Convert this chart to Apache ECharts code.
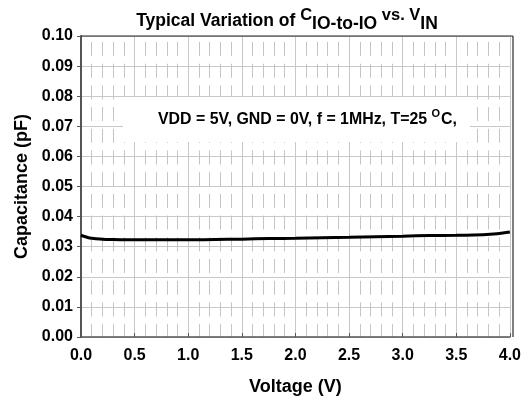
<!DOCTYPE html>
<html><head><meta charset="utf-8">
<script src="https://cdn.jsdelivr.net/npm/echarts@6/dist/echarts.min.js"></script>
<style>html,body{margin:0;padding:0;background:#fff}#c{width:524px;height:402px}</style>
</head><body><div id="c"></div>
<script>
const voltage = [0, 0.05, 0.1, 0.2, 0.3, 0.5, 0.75, 1.0, 1.25, 1.5, 1.75, 2.0, 2.25, 2.5, 2.75, 3.0, 3.25, 3.5, 3.75, 3.9, 4.0];
const capacitance = [0.0338, 0.0332, 0.0328, 0.0325, 0.0324, 0.0323, 0.0323, 0.0323, 0.0324, 0.0325, 0.0327, 0.0328, 0.0330, 0.0331, 0.0333, 0.0335, 0.0337, 0.0338, 0.0340, 0.0344, 0.0349];
const xTicks = ['0.0','0.5','1.0','1.5','2.0','2.5','3.0','3.5','4.0'];
const font = 'Liberation Sans, Arial, sans-serif';
const chart = echarts.init(document.getElementById('c'));
chart.setOption({
  animation: false,
  title: {
    text: '{a|Typical Variation of }{c|C}{b|IO-to-IO}{c| vs. V}{b|IN}',
    left: 282, top: 9, textAlign: 'center',
    textStyle: {
      rich: {
        a: {fontFamily: font, fontWeight: 'bold', fontSize: 17.5, color: '#000', verticalAlign: 'bottom', lineHeight: 20, padding: [0,0,4,0]},
        c: {fontFamily: font, fontWeight: 'bold', fontSize: 16.5, color: '#000', verticalAlign: 'bottom', lineHeight: 20, padding: [0,0,10,0]},
        b: {fontFamily: font, fontWeight: 'bold', fontSize: 17.5, color: '#000', verticalAlign: 'bottom', lineHeight: 20, padding: [0,0,1,0]}
      }
    }
  },
  grid: {left: 81, right: 11, top: 36, bottom: 65},
  xAxis: {
    type: 'value', min: 0, max: 4, interval: 0.5,
    name: 'Voltage (V)', nameLocation: 'middle', nameGap: 41,
    nameTextStyle: {fontFamily: font, fontWeight: 'bold', fontSize: 18, color: '#000'},
    axisLine: {lineStyle: {color: '#555', width: 1.5}},
    axisTick: {inside: true, length: 4, lineStyle: {color: '#555'}},
    axisLabel: {fontFamily: font, fontWeight: 'bold', fontSize: 16, color: '#000', margin: 11,
      formatter: v => xTicks[Math.round(v / 0.5)]},
    splitLine: {show: true, lineStyle: {color: '#c8c8c8', width: 1}},
    minorTick: {show: false, splitNumber: 5},
    minorSplitLine: {show: true, lineStyle: {color: '#c4c4c4', width: 1, type: [14, 7.7], dashOffset: 15.7}}
  },
  yAxis: {
    type: 'value', min: 0, max: 0.1, interval: 0.01,
    name: 'Capacitance (pF)', nameLocation: 'middle', nameGap: 45,
    nameTextStyle: {fontFamily: font, fontWeight: 'bold', fontSize: 18, color: '#000'},
    axisLine: {show: true, lineStyle: {color: '#555', width: 2}},
    axisTick: {show: true, length: 4, lineStyle: {color: '#555'}},
    axisLabel: {fontFamily: font, fontWeight: 'bold', fontSize: 16, color: '#000', margin: 8,
      formatter: v => v.toFixed(2)},
    splitLine: {show: true, lineStyle: {color: '#c8c8c8', width: 1}}
  },
  graphic: [
    {type: 'rect', shape: {x: 123, y: 97, width: 347, height: 45}, style: {fill: '#fff'}, z: 5},
    {type: 'line', shape: {x1: 513, y1: 36, x2: 513, y2: 337}, style: {stroke: '#555', lineWidth: 1.5}, z: 6},
    {type: 'line', shape: {x1: 81, y1: 36, x2: 513, y2: 36}, style: {stroke: '#222', lineWidth: 1}, z: 6},
    {type: 'text', x: 158, y: 110, z: 6, style: {
      text: '{t|VDD = 5V, GND = 0V, f = 1MHz, T=25 }{s|O}{t|C,}',
      rich: {
        t: {fontFamily: font, fontWeight: 'bold', fontSize: 15.9, fill: '#000', verticalAlign: 'bottom', lineHeight: 18},
        s: {fontFamily: font, fontWeight: 'bold', fontSize: 11, fill: '#000', verticalAlign: 'bottom', lineHeight: 14, padding: [0,1,9,0]}
      }
    }}
  ],
  series: [{
    type: 'line', smooth: true, showSymbol: false,
    data: voltage.map((v, i) => [v, capacitance[i]]),
    lineStyle: {color: '#000', width: 3}
  }]
});
</script></body></html>
